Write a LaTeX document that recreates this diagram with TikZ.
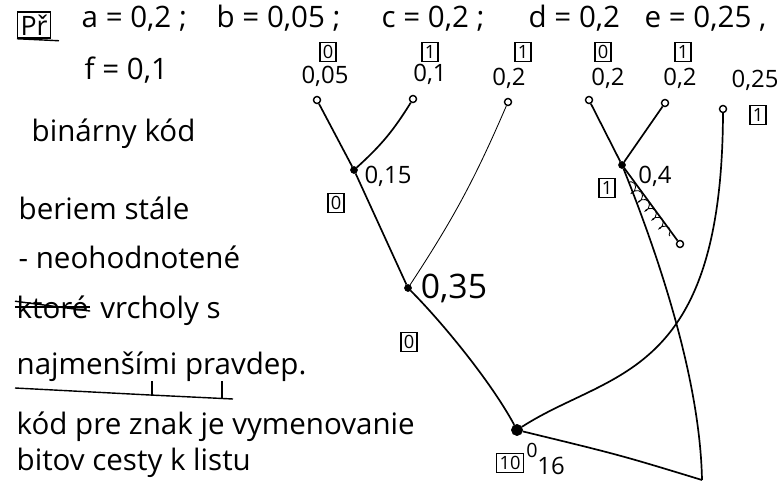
\documentclass[tikz,border=0pt]{standalone}
\usepackage{fontspec}
\setmainfont{Open Sans}
\usepackage{tikz}
\usetikzlibrary{decorations.pathmorphing}
\begin{document}
\begin{tikzpicture}[x=0.025cm, y=-0.025cm,
  every node/.style={font=\fontsize{21}{24}\selectfont, inner sep=1pt},
  hand/.style={anchor=base west},
  val/.style={font=\fontsize{17}{20}\selectfont},
  bit/.style={draw, line width=1pt, inner sep=2pt, font=\fontsize{13}{15}\selectfont},
  leaf/.style={circle, draw, line width=1pt, fill=white, inner sep=0pt, minimum size=5pt},
  inner/.style={circle, draw, fill, inner sep=0pt, minimum size=5pt},
  edge/.style={line width=1.2pt},
  thinedge/.style={line width=0.6pt}
]
\useasboundingbox (0,0) rectangle (780,492);
% header
\node[draw, line width=1pt, inner sep=2pt, font=\fontsize{19}{21}\selectfont] (pr) at (34,25) {Př};
\draw[line width=1pt] (pr.south west) -- ++(42,2);
\node[hand] (ta) at (80,28) {a = 0,2 ;};
\node[hand] (tb) at (215,28) {b = 0,05 ;};
\node[hand] (tc) at (380,28) {c = 0,2 ;};
\node[hand] (td) at (527,28) {d = 0,2};
\node[hand] (te) at (643,28) {e = 0,25 ,};
\node[hand] (tf) at (83,80) {f = 0,1};
% notes
\node[hand] (n1) at (30,142) {binárny kód};
\node[hand] (n2) at (17,219) {beriem stále};
\node[hand] (n3) at (17,268) {- neohodnotené};
\node[hand] (n4x) at (15,318) {ktoré};
\draw[line width=1pt] (n4x.west) -- (n4x.east);
\draw[line width=1pt] ([yshift=4]n4x.west) -- ([yshift=-3]n4x.east);
\node[hand] (n4) at ([xshift=6]n4x.base east) {vrcholy s};
\node[hand] (n5) at (15,374) {najmenšími pravdep.};
\draw[line width=1pt] (15,388) -- (150,395) -- (233,399);
\draw[line width=1pt] (152,396) -- (152,381);
\draw[line width=1pt] (222,398) -- (222,381);
\node[hand] (n6) at (15,434) {kód pre znak je vymenovanie};
\node[hand] (n7) at (15,470) {bitov cesty k listu};
% bits over the leaves
\node[bit] (bb) at (328,52) {0};
\node[bit] (bf) at (430,52) {1};
\node[bit] (bc) at (523,52) {1};
\node[bit] (ba) at (603,52) {0};
\node[bit] (bd) at (683,52) {1};
% leaf values
\node[val] (vb) at (325,76) {0,05};
\node[val] (vf) at (430,74) {0,1};
\node[val] (vc) at (509,78) {0,2};
\node[val] (va) at (608,78) {0,2};
\node[val] (vd) at (680,78) {0,2};
\node[val] (ve) at (755,80) {0,25};
% tree
\node[leaf] (lb) at (317,100) {};
\node[leaf] (lf) at (413,99) {};
\node[leaf] (lc) at (508,102) {};
\node[leaf] (la) at (589,100) {};
\node[leaf] (ld) at (665,103) {};
\node[leaf] (le) at (723,109) {};
\node[inner] (n015) at (354,170) {};
\node[inner] (n035) at (408,288) {};
\node[inner] (n04) at (622,165) {};
\node[inner, minimum size=8pt] (root) at (517,430) {};
\node[leaf] (s04) at (680,244) {};
\coordinate (k06) at (702,480);
\draw[edge] (lb) -- (n015);
\draw[edge] (lf) to[bend left=8] (n015);
\draw[edge] (n015) -- (n035);
\draw[thinedge] (lc) to[bend left=5] (n035);
\draw[edge] (la) -- (n04);
\draw[edge] (ld) -- (n04);
\draw[edge] (n04) -- (s04);
\draw[thinedge, decorate, decoration={coil, aspect=0.6, amplitude=3pt, segment length=8pt}]
  (628,182) -- (670,236);
\draw[edge] (n04) .. controls (660,260) and (700,380) .. (k06);
\draw[edge] (n035) .. controls (440,320) and (490,380) .. (root);
\draw[edge] (le) .. controls (722,380) and (610,370) .. (root);
\draw[edge] (root) .. controls (620,455) .. (k06);
% node labels
\node[val] (w015) at (388,176) {0,15};
\node[font=\fontsize{24}{28}\selectfont] (w035) at (454,288) {0,35};
\node[val] (w04) at (655,176) {0,4};
\node[bit] (b015) at (336,203) {0};
\node[bit] (b035) at (409,342) {0};
\node[bit] (b04) at (607,188) {1};
\node[bit] (be) at (758,115) {1};
\node[bit] (broot) at (510,463) {10};
\node[val, font=\fontsize{14}{16}\selectfont] (w0) at (532,450) {0};
\node[val] (w16) at (551,466) {16};
\end{tikzpicture}
\end{document}
